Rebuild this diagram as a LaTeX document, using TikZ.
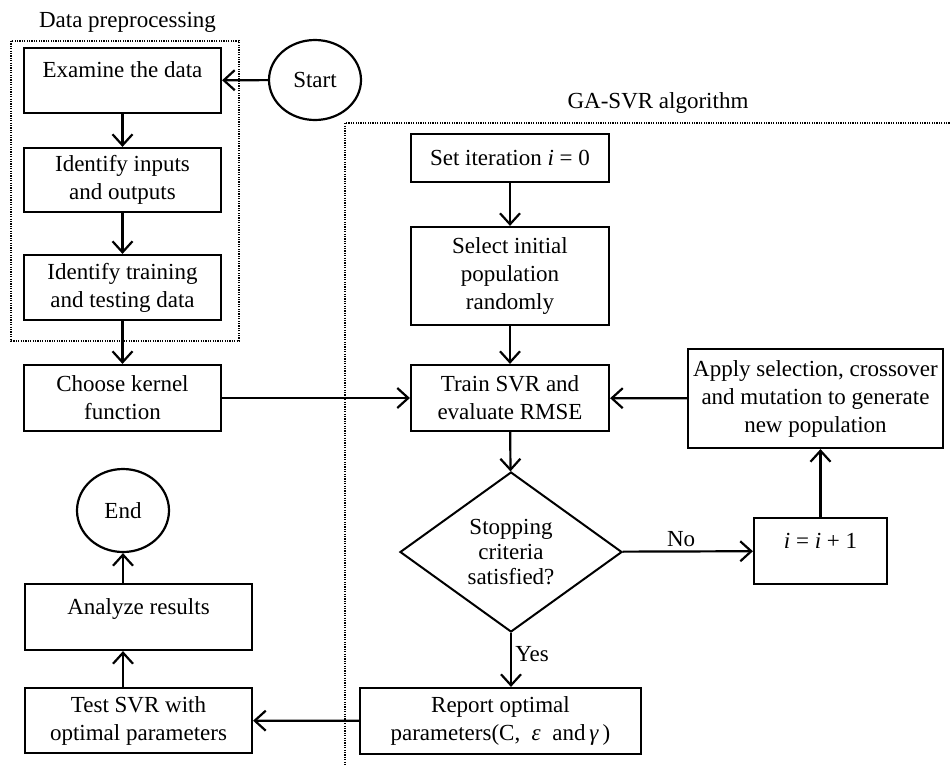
\documentclass[tikz,border=0pt]{standalone}
\usepackage{fontspec}
\setmainfont{Liberation Serif}
\usepackage{tikz}
\usetikzlibrary{shapes.geometric,arrows.meta}

\begin{document}
\begin{tikzpicture}[x=1pt,y=-1pt,line width=2.2pt,
    >={Straight Barb[length=11pt,width=20pt,line width=2.2pt]},
    box/.style={draw,rectangle,align=center,inner sep=2pt,
        font=\fontsize{23}{28}\selectfont},
    topbox/.style={box,text height=16pt,text depth=22pt},
    term/.style={draw,ellipse,inner sep=0pt,font=\fontsize{23}{28}\selectfont},
    decision/.style={draw,diamond,aspect=1.39,inner sep=0pt,align=center,
        line width=2pt,font=\fontsize{23}{25}\selectfont},
    frame/.style={line width=1.3pt,dash pattern=on 1.2pt off 1.2pt},
    caption/.style={font=\fontsize{23}{28}\selectfont}]
    \useasboundingbox (0,0) rectangle (950,764);

    \draw[frame] (11,41) rectangle (239,341);
    \draw[frame] (952,123) -| (345,766);
    \node[caption] (lbldata) at (127.5,22) {Data preprocessing};
    \node[caption] (lblga) at (658,103) {GA-SVR algorithm};

    \node[term,minimum width=92pt,minimum height=80pt] (start) at (315,80) {Start};
    \node[topbox,minimum width=197pt,minimum height=65pt] (examine) at (122.5,80.5) {Examine the data};
    \node[box,minimum width=197pt,minimum height=64pt] (inputs) at (122.5,180) {Identify inputs\\and outputs};
    \node[box,minimum width=197pt,minimum height=65pt] (training) at (122.5,287.5) {Identify training\\and testing data};
    \node[box,minimum width=197pt,minimum height=66pt] (kernel) at (122.5,398) {Choose kernel\\function};

    \node[box,minimum width=198pt,minimum height=48pt] (setit) at (510,158) {Set iteration \textit{i} = 0};
    \node[box,minimum width=198pt,minimum height=98pt] (select) at (510,276) {Select initial\\population\\randomly};
    \node[box,minimum width=198pt,minimum height=66pt] (train) at (510,398) {Train SVR and\\evaluate RMSE};
    \node[box,minimum width=255pt,minimum height=99pt] (apply) at (815.5,398.5) {Apply selection, crossover\\and mutation to generate\\new population};
    \node[decision,minimum width=222pt,minimum height=160pt] (stop) at (511,552) {Stopping\\criteria\\satisfied?};
    \node[topbox,minimum width=133pt,minimum height=66pt] (incr) at (820.5,551) {\textit{i} = \textit{i} + 1};
    \node[box,minimum width=281pt,minimum height=66pt] (report) at (500.5,721) {Report optimal\\parameters(C,\ \ \textit{ε}\ \ and\,\textit{γ}\,)};

    \node[term,minimum width=92pt,minimum height=83pt] (finish) at (123,510.5) {End};
    \node[topbox,minimum width=227pt,minimum height=66pt] (analyze) at (138.5,617) {Analyze results};
    \node[box,minimum width=227pt,minimum height=65pt] (test) at (138.5,720.5) {Test SVR with\\optimal parameters};

    \draw[->] (start) -- (examine);
    \draw[->] (examine) -- (inputs);
    \draw[->] (inputs) -- (training);
    \draw[->] (training) -- (kernel);
    \draw[->] (kernel) -- (train);
    \draw[->] (setit) -- (select);
    \draw[->] (select) -- (train);
    \draw[->] (train) -- (stop);
    \draw[->] (stop) -- node[caption,above,pos=0.45] {No} (incr);
    \draw[->] (incr.north) -- (incr.north |- apply.south);
    \draw[->] (apply) -- (train);
    \draw[->] (stop.south) -- node[caption,right,pos=0.4] {Yes} (stop.south |- report.north);
    \draw[->] (report) -- (test);
    \draw[->] (finish |- test.north) -- (finish |- analyze.south);
    \draw[->] (finish |- analyze.north) -- (finish.south);
\end{tikzpicture}
\end{document}
